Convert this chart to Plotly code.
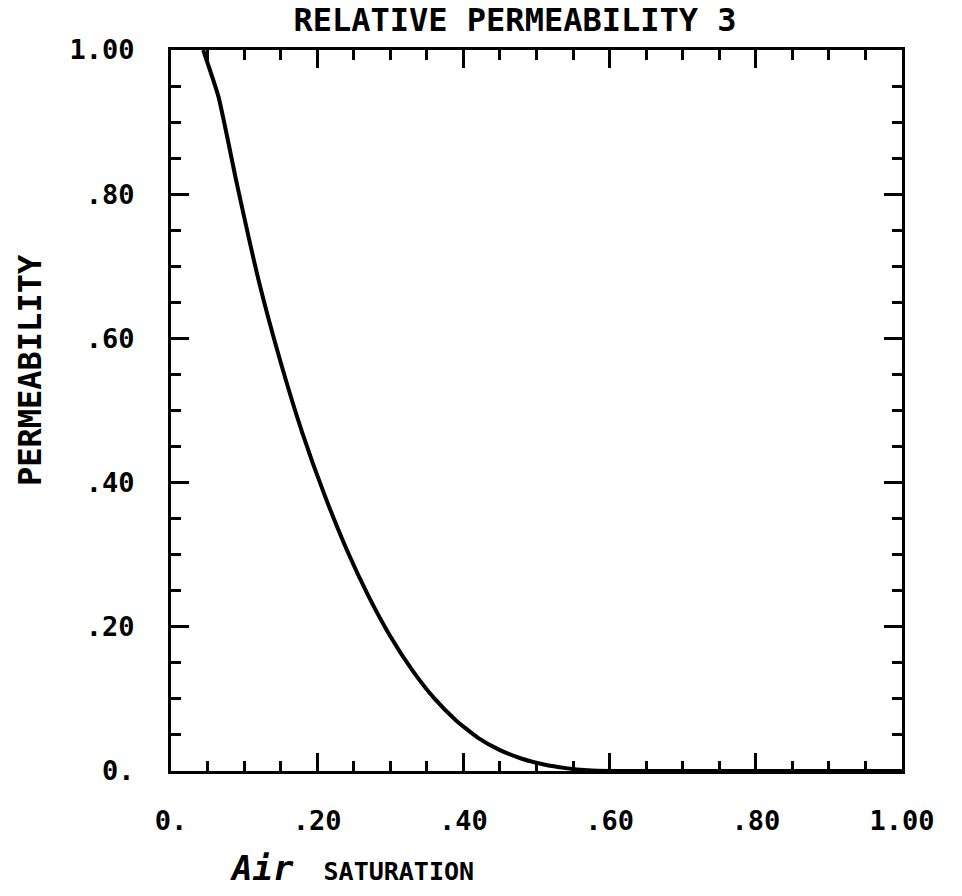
import plotly.graph_objects as go

# Data (air saturation vs relative permeability)
saturation = [0.044, 0.065, 0.09, 0.12, 0.15, 0.18, 0.21, 0.24, 0.27, 0.30,
              0.33, 0.36, 0.39, 0.42, 0.45, 0.48, 0.51, 0.54, 0.57, 0.60, 1.00]
permeability = [1.00, 0.935, 0.815, 0.68, 0.567, 0.468, 0.383, 0.308, 0.243, 0.187,
                0.140, 0.101, 0.070, 0.046, 0.029, 0.017, 0.009, 0.004, 0.001, 0.0, 0.0]

x_tickvals = [0, 0.2, 0.4, 0.6, 0.8, 1.0]
x_ticktext = ["0.", ".20", ".40", ".60", ".80", "1.00"]
y_tickvals = [0, 0.2, 0.4, 0.6, 0.8, 1.0]
y_ticktext = ["0.", ".20", ".40", ".60", ".80", "1.00"]

FONT = "DejaVu Sans Mono"

fig = go.Figure()
fig.add_trace(go.Scatter(
    x=saturation, y=permeability, mode="lines",
    line=dict(color="black", width=4, shape="spline", smoothing=0.5),
    cliponaxis=False, showlegend=False, hoverinfo="skip"))

axis_common = dict(
    range=[0, 1], showgrid=False, zeroline=False,
    showline=True, linecolor="black", linewidth=3, mirror="allticks",
    ticks="inside", ticklen=18, tickwidth=3, tickcolor="black",
    minor=dict(dtick=0.05, ticks="inside", ticklen=10, tickwidth=3, tickcolor="black"),
    tickfont=dict(family=FONT, size=27, color="black", weight="bold"),
)

fig.update_xaxes(tickvals=x_tickvals, ticktext=x_ticktext, ticklabelstandoff=24, **axis_common)
fig.update_yaxes(tickvals=y_tickvals, ticktext=y_ticktext, ticklabelstandoff=28, **axis_common)

fig.update_layout(
    width=962, height=896,
    margin=dict(l=171, r=60, t=50, b=125),
    paper_bgcolor="white", plot_bgcolor="white",
    title=dict(text="RELATIVE PERMEABILITY 3", x=515/962, xanchor="center",
               y=1 - 20/896, yanchor="middle", yref="container", xref="container",
               font=dict(family=FONT, size=32, color="black", weight="bold")),
    annotations=[
        dict(text="<i><span style='font-size:34px'>Air</span></i>  SATURATION",
             xref="paper", yref="paper", x=(352-171)/731, y=-(868-771)/721,
             xanchor="center", yanchor="middle", showarrow=False,
             font=dict(family=FONT, size=25, color="black", weight="bold")),
        dict(text="PERMEABILITY", textangle=-90,
             xref="paper", yref="paper", x=-(171-30)/731, y=(771-370)/721,
             xanchor="center", yanchor="middle", showarrow=False,
             font=dict(family=FONT, size=32, color="black", weight="bold")),
    ],
)

fig.write_html("out.html")
